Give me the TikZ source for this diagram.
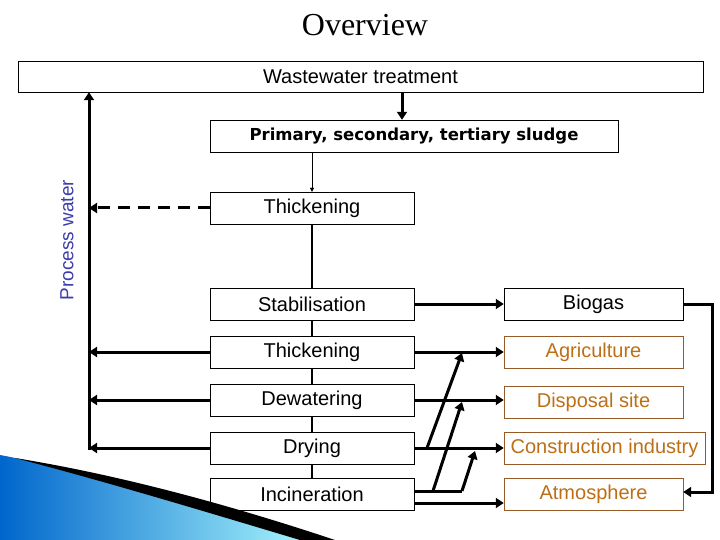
\documentclass[tikz,border=0pt]{standalone}
\usepackage{fontspec}
\setmainfont{Liberation Sans}
\newfontfamily\titlefont{Liberation Serif}
\newfontfamily\boldfont{DejaVu Sans}
\usetikzlibrary{arrows.meta}
\definecolor{brownish}{RGB}{150,90,40}
\definecolor{orangetext}{RGB}{190,110,20}
\definecolor{pwblue}{RGB}{60,60,170}
\tikzset{
  box/.style={draw, thin, inner sep=0pt, font=\fontsize{20}{22}\selectfont},
  obox/.style={box, draw=brownish, text=orangetext},
  thick arr/.style={line width=3pt, -{Triangle[length=8pt,width=10pt]}},
  thick ln/.style={line width=3pt},
}
\begin{document}
\begin{tikzpicture}[x=1pt, y=-1pt]
    \useasboundingbox (0,0) rectangle (720,540);

    % decoration, bottom left
    \shade[left color=blue!50!cyan!80!black, right color=cyan!30] (0,455) -- (0,540) -- (330,540) .. controls (200,505) and (80,470) .. cycle;
    \fill[black] (15,458) .. controls (120,475) and (230,505) .. (335,540) -- (300,540) .. controls (200,510) and (100,480) .. cycle;

    \node[font=\titlefont\fontsize{32}{34}\selectfont] (title) at (365,25) {Overview};

    \node[box, minimum width=685pt, minimum height=31pt] (ww) at (360.5,76.5) {Wastewater treatment};
    \node[box, minimum width=408pt, minimum height=32pt, font=\boldfont\bfseries\fontsize{16.5}{18}\selectfont] (prim) at (414,136) {Primary, secondary, tertiary sludge};

    \node[box, minimum width=204pt, minimum height=32pt] (th1) at (312,208) {Thickening};
    \node[box, minimum width=204pt, minimum height=32pt] (stab) at (312,304) {Stabilisation};
    \node[box, minimum width=204pt, minimum height=32pt] (th2) at (312,352) {Thickening};
    \node[box, minimum width=204pt, minimum height=32pt] (dew) at (312,400) {Dewatering};
    \node[box, minimum width=204pt, minimum height=32pt] (dry) at (312,448) {Drying};
    \node[box, minimum width=204pt, minimum height=32pt] (inc) at (312,494) {Incineration};

    \node[box, minimum width=179pt, minimum height=32pt] (bio) at (593.5,304) {Biogas};
    \node[obox, minimum width=179pt, minimum height=32pt] (agr) at (593.5,352) {Agriculture};
    \node[obox, minimum width=179pt, minimum height=32pt] (disp) at (593.5,402) {Disposal site};
    \node[obox, minimum width=201pt, minimum height=32pt] (cons) at (604.5,448) {Construction industry};
    \node[obox, minimum width=179pt, minimum height=32pt] (atm) at (593.5,494) {Atmosphere};

    \node[rotate=90, text=pwblue, font=\fontsize{19}{21}\selectfont] (pw) at (67,240) {Process water};

    % main chain
    \draw[thick arr] (ww.south -| 402,0) -- (prim.north -| 402,0);
    \draw[-{Triangle[length=4pt,width=4pt]}] (prim.south -| th1) -- (th1.north);
    \draw[line width=1.5pt] (th1) -- (stab) -- (th2) -- (dew) -- (dry) -- (inc);

    % process water return
    \coordinate (pwb) at (89,450);
    \draw[thick arr] (pwb) -- (ww.south -| pwb);
    \draw[thick arr, dash pattern=on 12pt off 8pt] (th1.west) -- (th1.west -| pwb);
    \foreach \n in {th2, dew, dry}
        \draw[thick arr] (\n.west) -- (\n.west -| pwb);

    % products
    \draw[thick arr] (stab) -- (bio);
    \draw[thick arr] (th2) -- (agr.west |- th2);
    \draw[thick arr] (dew) -- (disp.west |- dew);
    \draw[thick arr] (dry) -- (cons);
    \coordinate (incA) at (414,503);
    \draw[thick arr] (incA) -- (atm.west |- incA);
    \coordinate (incB) at (414,491);
    \coordinate (incE) at (462,491);
    \draw[thick ln] (incB) -- (incE);
    \draw[thick arr] (427,448) -- (462,353);
    \draw[thick arr] (433,491) -- (462,402);
    \draw[thick arr] (incE) -- (475,451);
    \coordinate (bioR) at (712,304);
    \draw[thick arr] (bio.east) -- (bioR) -- (bioR |- 0,492) -- (atm.east |- 0,492);
\end{tikzpicture}
\end{document}
